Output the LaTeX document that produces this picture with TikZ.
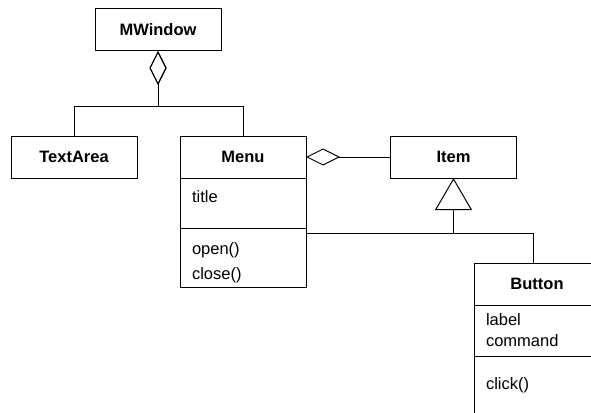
\documentclass[tikz,border=0pt]{standalone}
\usepackage{fontspec}
\setmainfont{Liberation Sans}
\usetikzlibrary{arrows.meta}

\begin{document}
\begin{tikzpicture}[
    x=1pt, y=-1pt, line width=1pt,
    every node/.style={font=\fontsize{16.5}{21}\selectfont},
    class/.style={rectangle, draw, minimum width=126pt, minimum height=42pt, inner sep=0pt, outer sep=0pt, font=\fontsize{16.5}{21}\selectfont\bfseries},
    compartment/.style={rectangle, draw, anchor=north, outer sep=0pt, inner xsep=12pt, inner ysep=0pt, text width=102pt, align=left},
    aggregation/.style={draw, -{Diamond[open, length=34pt, width=17pt]}},
    generalization/.style={draw, -{Triangle[open, length=32pt, width=37pt]}}
]
    \useasboundingbox (0,0) rectangle (591,412);
    \clip (0,0) rectangle (591,412);

    \node[class] (mwindow) at (158,30) {MWindow};
    \node[class] (textarea) at (74,157) {TextArea};
    \node[class] (menu) at (243,157) {Menu};
    \node[class] (item) at (453.5,157) {Item};
    \node[class] (button) at (537,284) {Button};

    % member lists below the class names
    \node[compartment, minimum height=50pt, text depth=12pt] (menuattr) at (menu.south) {title};
    \node[compartment, minimum height=59pt, text height=23pt] (menuops) at (menuattr.south) {open()\\[4pt]close()};
    \node[compartment, minimum height=51pt] (buttonattr) at (button.south) {label\\command};
    \node[compartment, minimum height=62pt, text depth=6pt] (buttonops) at (buttonattr.south) {click()};

    \coordinate (split) at (158,106);
    \coordinate (bus) at (453.5,233);

    \draw[aggregation] (textarea.north) |- (split) -- (mwindow.south);
    \draw[aggregation] (menu.north) |- (split) -- (mwindow.south);
    \draw[aggregation] (item.west) -- (menu.east);

    \draw[generalization] (bus) -- (item.south);
    \draw ([yshift=-5pt]menuops.north east) -| ([xshift=-4pt]button.north);
\end{tikzpicture}
\end{document}
